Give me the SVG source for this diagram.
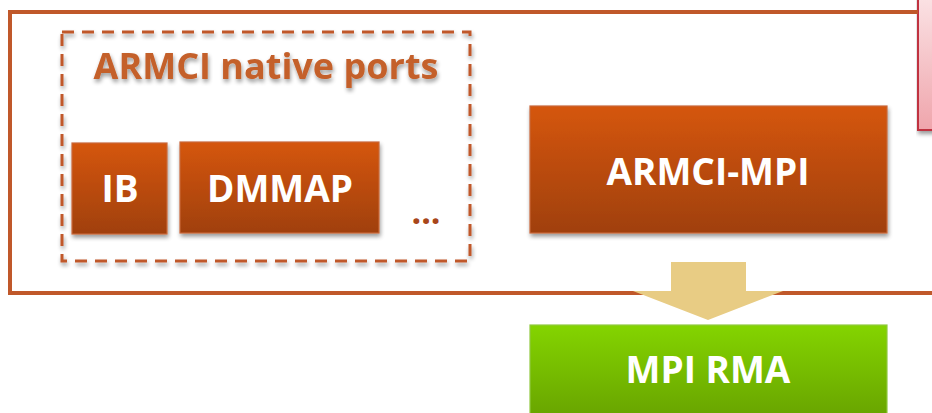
<svg xmlns="http://www.w3.org/2000/svg" width="932" height="413" viewBox="0 0 932 413">
<defs>
<linearGradient id="og" x1="0" y1="0" x2="0" y2="1"><stop offset="0" stop-color="#D55611"/><stop offset="1" stop-color="#A0400C"/></linearGradient>
<linearGradient id="gg" x1="0" y1="0" x2="0" y2="1"><stop offset="0" stop-color="#84D400"/><stop offset="1" stop-color="#66A000"/></linearGradient>
<linearGradient id="pg" x1="0" y1="0" x2="0" y2="1"><stop offset="0" stop-color="#FBE3E5"/><stop offset="1" stop-color="#EFA5AC"/></linearGradient>
<filter id="sh" x="-10%" y="-10%" width="120%" height="130%"><feGaussianBlur in="SourceAlpha" stdDeviation="2"/><feOffset dx="1" dy="3"/><feComponentTransfer><feFuncA type="linear" slope="0.4"/></feComponentTransfer><feMerge><feMergeNode/><feMergeNode in="SourceGraphic"/></feMerge></filter>
</defs>
<style>
.box{fill:url(#og);stroke:#C8683A;stroke-width:1.2;filter:url(#sh)}
.lbl{font-family:"Open Sans","Liberation Sans",sans-serif;font-weight:bold;font-size:37px;fill:#fff;text-anchor:middle}
</style>
<rect width="932" height="413" fill="#fff"/>
<g id="pink"><rect x="918" y="-5" width="30" height="135" fill="url(#pg)" stroke="#C0303F" stroke-width="2" filter="url(#sh)"/></g>
<g id="frame"><path d="M918 12 H10 V293 H932" fill="none" stroke="#C0582A" stroke-width="4"/></g>
<g id="native-ports">
<rect x="62" y="32" width="408" height="229" fill="none" stroke="#C0582A" stroke-width="3" stroke-dasharray="12 8" filter="url(#sh)"/>
<text x="266" y="79" class="lbl" style="fill:#C4602C;font-size:36px" filter="url(#sh)">ARMCI native ports</text>
<text x="426" y="224" font-family="Open Sans, Liberation Sans, sans-serif" font-weight="bold" font-size="34" fill="#A8461A" text-anchor="middle">...</text>
</g>
<g id="ib"><rect class="box" x="72" y="143" width="95" height="91"/><text class="lbl" x="120" y="202">IB</text></g>
<g id="dmmap"><rect class="box" x="180" y="142" width="199" height="91"/><text class="lbl" x="280" y="202">DMMAP</text></g>
<g id="armci-mpi"><rect class="box" x="530" y="106" width="357" height="127"/><text class="lbl" x="708" y="185">ARMCI-MPI</text></g>
<g id="connectors"><path d="M671 262 H746 V291 H783 L708 320 L633 291 H671 Z" fill="#E8CC84"/></g>
<g id="mpi-rma"><rect x="530" y="325" width="357" height="100" fill="url(#gg)" stroke="#90C840" stroke-width="1.2"/><text class="lbl" x="708" y="383">MPI RMA</text></g>
</svg>
